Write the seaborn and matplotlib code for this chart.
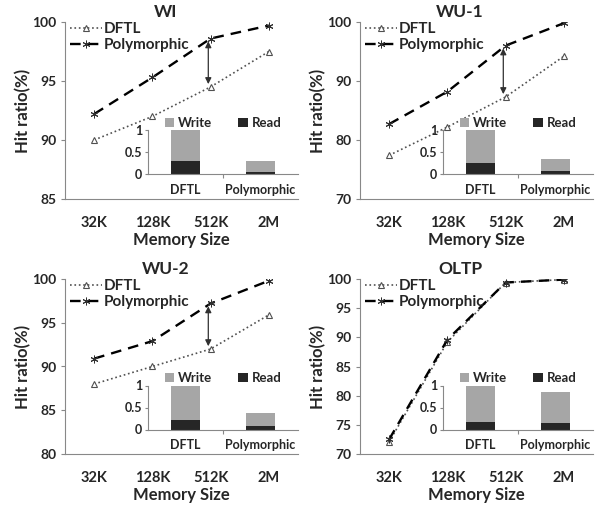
import numpy as np
import matplotlib
matplotlib.use("Agg")
import matplotlib.pyplot as plt
import seaborn as sns
from matplotlib.lines import Line2D
from matplotlib.patches import Patch

sizes = ["32K", "128K", "512K", "2M"]
titles = ["WI", "WU-1", "WU-2", "OLTP"]
schemes = ["DFTL", "Polymorphic"]

dftl_wi = [90.0, 92.0, 94.5, 97.5]
poly_wi = [92.2, 95.3, 98.6, 99.7]
dftl_wu1 = [77.4, 82.2, 87.3, 94.2]
poly_wu1 = [82.7, 88.2, 96.0, 99.8]
dftl_wu2 = [88.0, 90.0, 92.0, 95.9]
poly_wu2 = [90.9, 92.9, 97.2, 99.8]
dftl_oltp = [72.1, 89.2, 99.4, 99.9]
poly_oltp = [72.5, 89.6, 99.4, 99.9]

read_wi = [0.29, 0.06]
write_wi = [0.71, 0.23]
read_wu1 = [0.25, 0.07]
write_wu1 = [0.75, 0.27]
read_wu2 = [0.22, 0.07]
write_wu2 = [0.78, 0.31]
read_oltp = [0.18, 0.15]
write_oltp = [0.82, 0.71]

ylims = [(85, 100), (70, 100), (80, 100), (70, 100)]
ysteps = [5, 10, 5, 5]
arrows = [True, True, True, False]

dftl_all = [dftl_wi, dftl_wu1, dftl_wu2, dftl_oltp]
poly_all = [poly_wi, poly_wu1, poly_wu2, poly_oltp]
read_all = [read_wi, read_wu1, read_wu2, read_oltp]
write_all = [write_wi, write_wu1, write_wu2, write_oltp]

sns.set_theme(style="white")
plt.rcParams['font.family'] = ['Lato', 'DejaVu Sans']
plt.rcParams['font.weight'] = 'bold'
plt.rcParams['axes.labelweight'] = 'bold'

W, H = 601, 509
fig = plt.figure(figsize=(W / 100, H / 100), dpi=100)

boxes = [(65, 22, 233, 177), (360, 22, 233, 177), (65, 279, 233, 175), (360, 279, 233, 175)]
spine_c = '#888888'
gray = '#a6a6a6'
dark = '#262626'
dftl_c = '#505050'
dash = (0, (4.5, 3))

dftl_style = dict(color=dftl_c, linestyle=':', lw=1.2, marker='^', markersize=5,
                  markerfacecolor='white', markeredgecolor=dftl_c, markeredgewidth=0.8)
poly_style = dict(color='black', linestyle=dash, lw=1.7, marker=(6, 2, 0), markersize=5.5,
                  markeredgecolor='#303030', markeredgewidth=0.7)

for i in range(4):
    l, t, w, h = boxes[i]
    ax = fig.add_axes([l / W, 1 - (t + h) / H, w / W, h / H])
    x = np.arange(4)
    sns.lineplot(x=x, y=dftl_all[i], ax=ax, **dftl_style)
    sns.lineplot(x=x, y=poly_all[i], ax=ax, **poly_style)
    ax.set_xlim(-0.5, 3.5)
    lo, hi = ylims[i]
    ax.set_ylim(lo, hi)
    yt = np.arange(lo, hi + 0.1, ysteps[i])
    ax.set_yticks(yt)
    ax.set_yticklabels([str(int(v)) for v in yt], fontsize=10, fontweight='bold')
    ax.set_xticks(np.arange(-0.5, 3.6, 1.0))
    ax.set_xticklabels([])
    ax.set_xticks(x, minor=True)
    ax.set_xticklabels(sizes, minor=True, fontsize=10.5, fontweight='bold')
    ax.tick_params(axis='x', which='minor', length=0, pad=12)
    ax.tick_params(axis='x', which='major', length=4, width=0.8, color=spine_c, direction='out')
    ax.tick_params(axis='y', length=3, width=0.8, color=spine_c, direction='out', left=True, pad=3)
    for s in ['top', 'right']:
        ax.spines[s].set_visible(False)
    for s in ['left', 'bottom']:
        ax.spines[s].set_color(spine_c)
        ax.spines[s].set_linewidth(0.8)
    ax.set_xlabel("Memory Size", fontsize=12, fontweight='bold')
    ax.xaxis.set_label_coords(0.5, -41 / h)
    ax.xaxis.label.set_va('center')
    ax.set_ylabel("Hit ratio(%)", fontsize=12, fontweight='bold')
    ax.yaxis.set_label_coords(-0.18, 0.5)
    ax.yaxis.label.set_va('center')
    ax.text(0.43, 1 + 10 / h, titles[i], transform=ax.transAxes, ha='center', va='center',
            fontsize=12.5, fontweight='bold')
    if arrows[i]:
        ax.annotate('', xy=(1.96, dftl_all[i][2]), xytext=(1.96, poly_all[i][2]),
                    arrowprops=dict(arrowstyle='<|-|>', color='#303030', lw=0.9,
                                    shrinkA=2, shrinkB=2, mutation_scale=9))
    handles = [Line2D([], [], **dftl_style), Line2D([], [], **poly_style)]
    ax.legend(handles, schemes, loc='upper left', bbox_to_anchor=(0.02, 1.0), frameon=False,
              borderaxespad=0, borderpad=0, handlelength=2.1, handletextpad=0.15,
              labelspacing=0.15, prop={'size': 11, 'weight': 'bold'})

    # inset
    il = l + 83
    ib = (t + h) - 0.14 * h
    ih = 44
    iax = fig.add_axes([il / W, 1 - ib / H, 150 / W, ih / H])
    totals = [r + wv for r, wv in zip(read_all[i], write_all[i])]
    sns.barplot(x=schemes, y=totals, color=gray, width=0.39, saturation=1, ax=iax,
                edgecolor='none', linewidth=0)
    sns.barplot(x=schemes, y=read_all[i], color=dark, width=0.39, saturation=1, ax=iax,
                edgecolor='none', linewidth=0)
    iax.set_xlim(-0.5, 1.5)
    iax.set_ylim(0, 1)
    iax.set_yticks([0, 0.5, 1])
    iax.set_yticklabels(['0', '0.5', '1'], fontsize=9, fontweight='bold')
    iax.set_xticks([0.5])
    iax.set_xticklabels([])
    iax.set_xticks([0, 1], minor=True)
    iax.set_xticklabels(schemes, minor=True, fontsize=9, fontweight='bold')
    iax.tick_params(axis='x', which='minor', length=0, pad=7)
    iax.tick_params(axis='x', which='major', length=3, width=0.8, color=spine_c, direction='out', bottom=True)
    iax.tick_params(axis='y', length=2, width=0.8, color=spine_c, direction='out', left=True, pad=2)
    iax.set_xlabel('')
    iax.set_ylabel('')
    iax.patch.set_alpha(0)
    for s in ['top', 'right']:
        iax.spines[s].set_visible(False)
    for s in ['left', 'bottom']:
        iax.spines[s].set_color(spine_c)
        iax.spines[s].set_linewidth(0.8)
    ih_handles = [Patch(facecolor=gray, edgecolor='none'), Patch(facecolor=dark, edgecolor='none')]
    iax.legend(ih_handles, ['Write', 'Read'], loc='lower center', bbox_to_anchor=(0.5, 1.0),
               ncol=2, frameon=False, borderaxespad=0, borderpad=0.1, handlelength=0.7,
               handleheight=0.7, handletextpad=0.3, columnspacing=2.0,
               prop={'size': 9.5, 'weight': 'bold'})

fig.savefig("out.png", dpi=100)
